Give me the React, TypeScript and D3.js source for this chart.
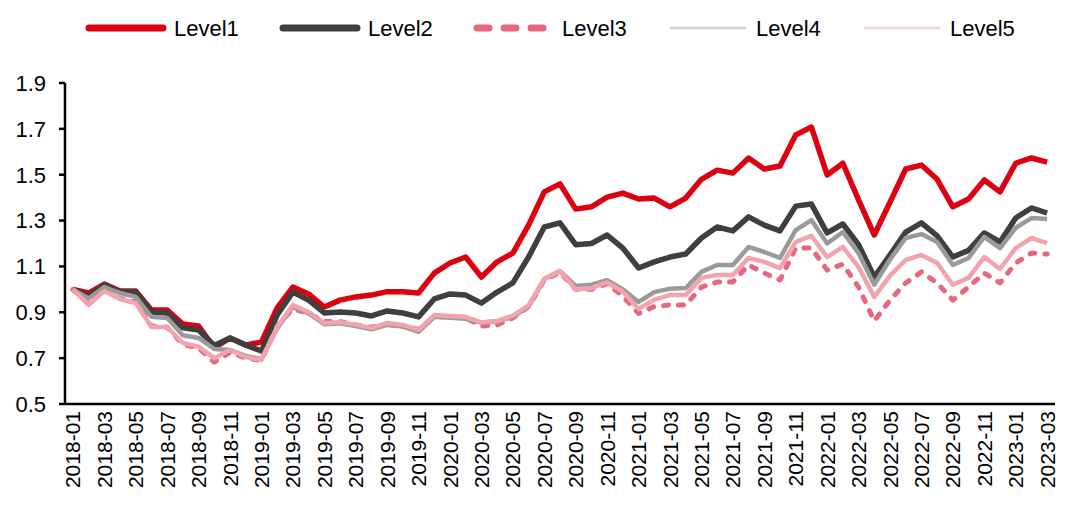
import React from "react";
import * as d3 from "d3";

const months: string[] = (() => {
  const out: string[] = [];
  for (let y = 2018; y <= 2023; y++) {
    for (let m = 1; m <= 12; m++) {
      if (y === 2023 && m > 3) break;
      out.push(`${y}-${String(m).padStart(2, "0")}`);
    }
  }
  return out;
})();

const level1 = [1.00, 0.984, 1.023, 0.993, 0.993, 0.91, 0.91, 0.849, 0.84, 0.745, 0.788, 0.757, 0.77,
  0.919, 1.01, 0.98, 0.923, 0.953, 0.967, 0.975, 0.99, 0.99, 0.984, 1.071, 1.115, 1.141,
  1.054, 1.12, 1.158, 1.28, 1.425, 1.46, 1.35, 1.36, 1.402, 1.42, 1.394, 1.398, 1.36,
  1.398, 1.48, 1.52, 1.507, 1.573, 1.525, 1.538, 1.673, 1.708, 1.499, 1.55, 1.39,
  1.237, 1.38, 1.525, 1.542, 1.48, 1.36, 1.394, 1.477, 1.425, 1.55, 1.573, 1.555];

const level2 = [1.0, 0.971, 1.019, 0.99, 0.99, 0.901, 0.897, 0.832, 0.823, 0.755, 0.788, 0.757, 0.731,
  0.888, 0.988, 0.953, 0.897, 0.901, 0.897, 0.884, 0.906, 0.897, 0.88, 0.958, 0.98, 0.975,
  0.94, 0.988, 1.028, 1.141, 1.272, 1.29, 1.195, 1.2, 1.237, 1.18, 1.093, 1.12, 1.141,
  1.154, 1.224, 1.272, 1.255, 1.316, 1.28, 1.255, 1.363, 1.372, 1.246, 1.285, 1.195,
  1.054, 1.15, 1.25, 1.29, 1.233, 1.141, 1.17, 1.246, 1.207, 1.311, 1.355, 1.333];

const level3 = [1.0, 0.935, 1.0, 0.96, 0.945, 0.84, 0.835, 0.76, 0.744, 0.683, 0.725, 0.70, 0.69,
  0.84, 0.915, 0.895, 0.86, 0.86, 0.845, 0.835, 0.85, 0.84, 0.825, 0.88, 0.88, 0.875,
  0.84, 0.845, 0.875, 0.925, 1.04, 1.075, 1.0, 1.0, 1.025, 0.97, 0.895, 0.925, 0.932,
  0.932, 1.01, 1.032, 1.032, 1.106, 1.071, 1.041, 1.18, 1.18, 1.084, 1.11, 1.01,
  0.862, 0.953, 1.028, 1.076, 1.028, 0.953, 1.01, 1.071, 1.028, 1.115, 1.158, 1.154];

const level4 = [1.0, 0.96, 1.01, 0.984, 0.967, 0.88, 0.875, 0.80, 0.788, 0.74, 0.735, 0.71, 0.695,
  0.83, 0.925, 0.895, 0.848, 0.852, 0.84, 0.826, 0.845, 0.838, 0.815, 0.88, 0.876, 0.872,
  0.855, 0.86, 0.88, 0.925, 1.045, 1.08, 1.015, 1.02, 1.04, 1.0, 0.945, 0.988, 1.003,
  1.006, 1.076, 1.106, 1.106, 1.185, 1.163, 1.137, 1.258, 1.302, 1.20, 1.25, 1.158,
  1.02, 1.13, 1.224, 1.241, 1.207, 1.106, 1.137, 1.229, 1.18, 1.268, 1.311, 1.307];

const level5 = [1.0, 0.932, 0.993, 0.958, 0.94, 0.836, 0.836, 0.766, 0.75, 0.70, 0.735, 0.705, 0.692,
  0.836, 0.932, 0.901, 0.853, 0.857, 0.845, 0.831, 0.853, 0.845, 0.823, 0.888, 0.884, 0.88,
  0.855, 0.862, 0.885, 0.93, 1.045, 1.08, 1.0, 1.005, 1.03, 0.99, 0.915, 0.955, 0.975,
  0.975, 1.05, 1.063, 1.063, 1.137, 1.12, 1.093, 1.207, 1.233, 1.141, 1.185, 1.097,
  0.967, 1.06, 1.128, 1.15, 1.115, 1.02, 1.05, 1.141, 1.089, 1.18, 1.224, 1.202];

const seriesNames = ["Level1", "Level2", "Level3", "Level4", "Level5"];
const yTicks = [0.5, 0.7, 0.9, 1.1, 1.3, 1.5, 1.7, 1.9];

const styles = [
  { color: "#dc0010", legendColor: "#dc0010", width: 5.5, legendWidth: 7, dash: undefined as string | undefined, legendDash: undefined as string | undefined },
  { color: "#3f3f3f", legendColor: "#3f3f3f", width: 5.5, legendWidth: 7, dash: undefined, legendDash: undefined },
  { color: "#e6677e", legendColor: "#e6677e", width: 5, legendWidth: 7, dash: "5 10", legendDash: "12 15" },
  { color: "#9a9a9a", legendColor: "#d2d2d2", width: 4.5, legendWidth: 2.5, dash: undefined, legendDash: undefined },
  { color: "#f2a3ae", legendColor: "#f9d3d9", width: 4.5, legendWidth: 2.5, dash: undefined, legendDash: undefined },
];

const W = 1074, H = 510;
const left = 65, right = 1055, top = 83, bottom = 404;
const FONT = "'Liberation Sans', Arial, sans-serif";

export default function App() {
  const data = [level1, level2, level3, level4, level5];
  const x = d3.scaleBand<string>().domain(months).range([left, right]);
  const y = d3.scaleLinear().domain([0.5, 1.9]).range([bottom, top]);
  const cx = (m: string) => (x(m) as number) + x.bandwidth() / 2;
  const line = d3.line<number>().x((_, i) => cx(months[i])).y((v) => y(v));
  const xLabels = months.filter((_, i) => i % 2 === 0);

  return (
    <svg width={W} height={H} style={{ position: "absolute", left: 0, top: 0, background: "#fff" }} fontFamily={FONT}>
      <rect width={W} height={H} fill="#fff" />
      {/* legend */}
      {seriesNames.map((name, i) => {
        const s = styles[i];
        const x0 = 89 + i * 194;
        return (
          <g key={name}>
            <line x1={x0} x2={x0 + 74} y1={28} y2={28} stroke={s.legendColor} strokeWidth={s.legendWidth}
              strokeLinecap="round" strokeDasharray={s.legendDash} />
            <text x={x0 + 85} y={28} dy="0.36em" fontSize={22} fill="#000">{name}</text>
          </g>
        );
      })}
      {/* series */}
      {data.map((vals, i) => {
        const s = styles[i];
        return (
          <path key={i} d={line(vals) as string} fill="none" stroke={s.color} strokeWidth={s.width}
            strokeLinejoin="round" strokeLinecap={s.dash ? "round" : "butt"} strokeDasharray={s.dash} />
        );
      })}
      {/* y axis */}
      <line x1={left} x2={left} y1={top} y2={bottom} stroke="#000" strokeWidth={2.5} />
      {yTicks.map((t) => (
        <g key={t}>
          <line x1={left - 6} x2={left} y1={y(t)} y2={y(t)} stroke="#000" strokeWidth={2.5} />
          <text x={46} y={y(t)} dy="0.36em" textAnchor="end" fontSize={22} fill="#000">{t.toFixed(1)}</text>
        </g>
      ))}
      {/* x axis */}
      <line x1={left} x2={right} y1={bottom} y2={bottom} stroke="#000" strokeWidth={2.5} />
      {xLabels.map((m) => (
        <text key={m} transform={`translate(${cx(m)},${bottom + 7}) rotate(-90)`} textAnchor="end" dy="0.36em"
          fontSize={21} fill="#000">{m}</text>
      ))}
    </svg>
  );
}
